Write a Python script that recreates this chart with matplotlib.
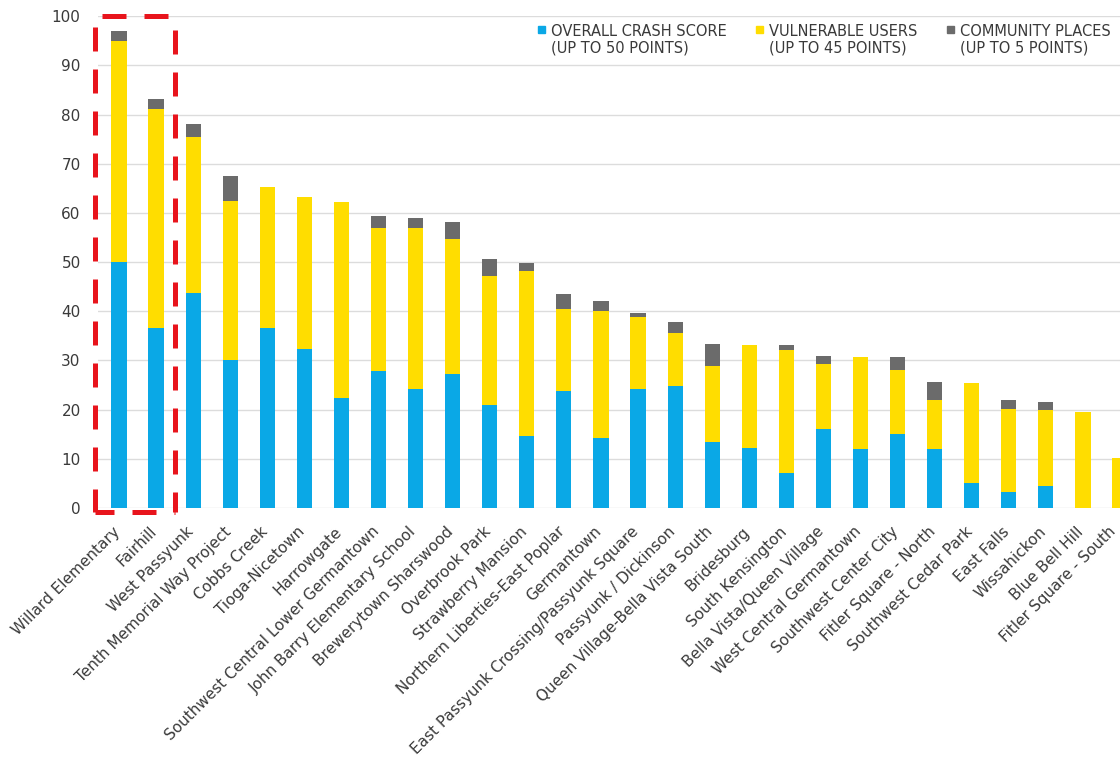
import matplotlib.pyplot as plt
from matplotlib.patches import Rectangle
from matplotlib.legend_handler import HandlerPatch
from matplotlib.transforms import ScaledTranslation
import numpy as np

areas = ["Willard Elementary", "Fairhill", "West Passyunk", "Tenth Memorial Way Project",
         "Cobbs Creek", "Tioga-Nicetown", "Harrowgate", "Southwest Central Lower Germantown",
         "John Barry Elementary School", "Brewerytown Sharswood", "Overbrook Park",
         "Strawberry Mansion", "Northern Liberties-East Poplar", "Germantown",
         "East Passyunk Crossing/Passyunk Square", "Passyunk / Dickinson",
         "Queen Village-Bella Vista South", "Bridesburg", "South Kensington",
         "Bella Vista/Queen Village", "West Central Germantown", "Southwest Center City",
         "Fitler Square - North", "Southwest Cedar Park", "East Falls", "Wissahickon",
         "Blue Bell Hill", "Fitler Square - South"]

# running tops
crash = [50, 36.6, 43.8, 30.0, 36.5, 32.4, 22.3, 27.8, 24.2, 27.3, 20.9, 14.7, 23.8, 14.3,
         24.2, 24.9, 13.4, 12.2, 7.2, 16.1, 12.0, 15.1, 11.9, 5.1, 3.3, 4.4, 0, 0]
vuln_top = [95.0, 81.1, 75.4, 62.5, 65.3, 63.2, 62.2, 56.9, 57.0, 54.7, 47.2, 48.1, 40.5, 40.0,
            38.8, 35.5, 28.8, 33.2, 32.1, 29.2, 30.8, 28.1, 22.0, 25.4, 20.2, 19.9, 19.5, 10.1]
total = [97.0, 83.1, 78.0, 67.5, 65.3, 63.2, 62.2, 59.4, 58.9, 58.2, 50.6, 49.9, 43.6, 42.0,
         39.6, 37.8, 33.3, 33.2, 33.2, 30.9, 30.8, 30.7, 25.7, 25.4, 22.0, 21.5, 19.5, 10.1]

crash = np.array(crash)
vuln = np.array(vuln_top) - crash
places = np.array(total) - np.array(vuln_top)

blue = '#0aa8e6'
yellow = '#ffdd00'
grey = '#6b6b6b'
txt = '#3a3a3a'
red = '#e8141c'
labels = ['OVERALL CRASH SCORE\n(UP TO 50 POINTS)', 'VULNERABLE USERS\n(UP TO 45 POINTS)',
          'COMMUNITY PLACES\n(UP TO 5 POINTS)']

plt.rcParams['font.family'] = 'DejaVu Sans'
fig = plt.figure(figsize=(11.2, 7.65), dpi=100)
ax = fig.add_axes([98/1120, 257/765, 1022/1120, 491.8/765])

x = np.arange(len(areas))
w = 0.41
ax.bar(x, crash, w, color=blue)
ax.bar(x, vuln, w, bottom=crash, color=yellow)
ax.bar(x, places, w, bottom=crash + vuln, color=grey)

ax.set_yticks(range(0, 101, 10))
ax.yaxis.grid(True, color='#dcdcdc', lw=1)
ax.set_axisbelow(True)
for s in ax.spines.values():
    s.set_visible(False)
ax.tick_params(length=0, colors=txt)
ax.tick_params(axis='y', labelsize=11, pad=12.5)
ax.tick_params(axis='x', labelsize=11, pad=11.5)
ax.set_xticks(x)
ax.set_xticklabels(areas, rotation=45, ha='right', va='top', rotation_mode='anchor')
ticklabs = ax.get_xticklabels()
for i, lab in enumerate(ticklabs):
    dx = -12 if i == len(ticklabs) - 1 else -7
    lab.set_transform(lab.get_transform() + ScaledTranslation(dx/100, 0, fig.dpi_scale_trans))

# red dashed highlight box, one side at a time so the dash phase matches
x0, x1, y0, y1 = -0.655, 1.505, -0.8, 100
sides = [([x0, x0], [y1, y0], 6.2), ([x1, x1], [y1, y0], 5.6),
         ([x0, x1], [y1, y1], 7.0), ([x0, x1], [y0, y0], 1.0)]
for sx, sy, off in sides:
    ax.plot(sx, sy, color=red, lw=3.6, ls=(off, (4.8, 3.6)), clip_on=False,
            solid_capstyle='butt', dash_capstyle='butt')

ax.set_xlim(-0.566, 27.0)
ax.set_ylim(0, 100)


def square(legend, orig_handle, xdescent, ydescent, width, height, fontsize):
    s = 0.48 * fontsize
    return Rectangle((0, height - s - 3.3), s, s)


handles = [Rectangle((0, 0), 1, 1, color=c) for c in (blue, yellow, grey)]
fig.legend(handles, labels, ncol=3, frameon=False, loc='upper right',
           bbox_to_anchor=(1124/1120, 754.6/765), fontsize=10.5, labelcolor=txt,
           handlelength=0.6, handleheight=2.2, handletextpad=0.3, columnspacing=2.0,
           handler_map={Rectangle: HandlerPatch(patch_func=square)})

fig.savefig('out.png', dpi=100)
